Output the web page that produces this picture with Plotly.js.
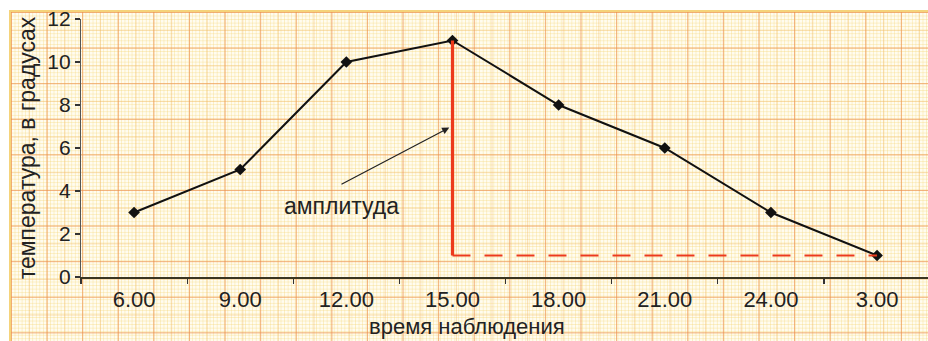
<!DOCTYPE html>
<html>
<head>
<meta charset="utf-8">
<script src="https://cdn.plot.ly/plotly-3.0.1.min.js"></script>
<style>
  html, body { margin: 0; padding: 0; background: #ffffff; }
  #wrap { position: relative; width: 928px; height: 341px; overflow: hidden; }
  #paper {
    position: absolute; left: 9px; top: 10px; right: 0; bottom: 0;
    background-color: #fffcf0;
    background-image:
      linear-gradient(to right, rgba(236,140,80,0.55) 1.3px, transparent 1.3px),
      linear-gradient(to bottom, rgba(236,140,80,0.55) 1.3px, transparent 1.3px),
      linear-gradient(to right, rgba(240,180,95,0.4) 1px, transparent 1px),
      linear-gradient(to bottom, rgba(240,180,95,0.4) 1px, transparent 1px),
      linear-gradient(to right, rgba(245,215,120,0.38) 1px, transparent 1px),
      linear-gradient(to bottom, rgba(245,215,120,0.38) 1px, transparent 1px);
    background-size: 35.6px 35.6px, 35.6px 35.6px, 17.8px 17.8px, 17.8px 17.8px, 3.56px 3.56px, 3.56px 3.56px;
    border-top: 2px solid #f5d37a;
    border-left: 2px solid #f5d37a;
  }
  #chart { position: absolute; left: 0; top: 0; width: 928px; height: 341px; }
</style>
</head>
<body>
<div id="wrap">
  <div id="paper"></div>
  <div id="chart"></div>
</div>
<script>
// Data
var categories = ["6.00", "9.00", "12.00", "15.00", "18.00", "21.00", "24.00", "3.00"];
var temperatures = [3, 5, 10, 11, 8, 6, 3, 1];
var yTicks = [0, 2, 4, 6, 8, 10, 12];
var amplitudeLabel = "амплитуда";
var xTitle = "время наблюдения";
var yTitle = "температура, в градусах";

// Derived amplitude markers (max and min)
var maxT = Math.max.apply(null, temperatures);
var minT = Math.min.apply(null, temperatures);
var maxIdx = temperatures.indexOf(maxT);
var maxCat = categories[maxIdx];
var minCat = categories[temperatures.indexOf(minT)];

var traces = [
  {
    x: categories, y: temperatures,
    mode: "lines+markers", type: "scatter",
    line: { color: "#111111", width: 2 },
    marker: { symbol: "diamond", size: 9, color: "#111111" },
    showlegend: false
  },
  {
    x: [maxCat, maxCat], y: [minT, maxT],
    mode: "lines", type: "scatter",
    line: { color: "#ec3a1c", width: 3.2 },
    hoverinfo: "skip", showlegend: false
  },
  {
    x: [maxCat, minCat], y: [minT, minT],
    mode: "lines", type: "scatter",
    line: { color: "#ec3a1c", width: 2.2, dash: "18px,14px" },
    hoverinfo: "skip", showlegend: false
  }
];

var plotTop = 19, plotBottom = 277, plotLeft = 81;

var layout = {
  width: 928, height: 341,
  margin: { l: plotLeft, r: 0, t: plotTop, b: 341 - plotBottom },
  paper_bgcolor: "rgba(0,0,0,0)",
  plot_bgcolor: "rgba(0,0,0,0)",
  font: { family: "Liberation Sans, Arial, sans-serif", color: "#222222" },
  showlegend: false,
  xaxis: {
    type: "category",
    categoryorder: "array", categoryarray: categories,
    range: [-0.5, 7.48],
    tickson: "boundaries",
    ticks: "outside", ticklen: 5, tickcolor: "#333", tickwidth: 1.2,
    ticklabelstandoff: 2,
    showgrid: false, zeroline: false,
    showline: true, linecolor: "#3a3520", linewidth: 1.6,
    tickfont: { size: 22, color: "#222" }
  },
  yaxis: {
    range: [0, 12],
    tickvals: yTicks,
    ticks: "outside", ticklen: 5, tickcolor: "#333", tickwidth: 1.2,
    showgrid: false, zeroline: false,
    showline: true, linecolor: "#555", linewidth: 1.2,
    tickfont: { size: 21, color: "#222" },
    title: { text: yTitle, font: { size: 23, color: "#222" }, standoff: 5 }
  },
  annotations: [
    {
      x: maxIdx - 0.03, y: 6.95, xref: "x", yref: "y",
      ax: 1.94, ay: 4.28, axref: "x", ayref: "y",
      showarrow: true, arrowhead: 2, arrowsize: 1.2, arrowwidth: 1.2, arrowcolor: "#222",
      text: ""
    },
    {
      x: 1.95, y: 3.3, xref: "x", yref: "y",
      text: amplitudeLabel, showarrow: false,
      font: { size: 23, color: "#222" }
    },
    {
      x: (467 - plotLeft) / (928 - plotLeft),
      y: -(326 - plotBottom) / (plotBottom - plotTop),
      xref: "paper", yref: "paper", xanchor: "center", yanchor: "middle",
      text: xTitle, showarrow: false,
      font: { size: 22, color: "#222" }
    }
  ]
};

Plotly.newPlot("chart", traces, layout, { staticPlot: true, displayModeBar: false });
</script>
</body>
</html>
